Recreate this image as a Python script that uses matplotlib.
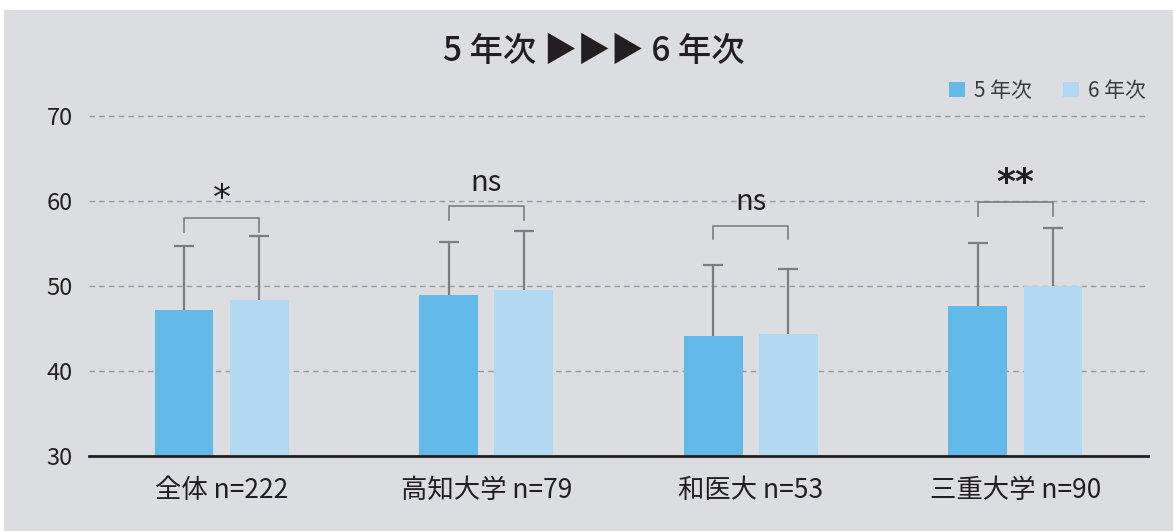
import matplotlib
matplotlib.use("Agg")
import numpy as np
import matplotlib.pyplot as plt
from matplotlib.patches import Rectangle, Patch

plt.rcParams["font.family"] = ["Noto Sans CJK JP", "DejaVu Sans"]

# -------------------------
# Data
# -------------------------
groups = ["全体 n=222", "高知大学 n=79", "和医大 n=53", "三重大学 n=90"]
series_names = ["5 年次", "6 年次"]
mean_y5 = [47.2, 48.9, 44.1, 47.7]
sd_y5 = [7.5, 6.3, 8.4, 7.4]
mean_y6 = [48.4, 49.5, 44.3, 50.0]
sd_y6 = [7.5, 7.0, 7.7, 6.8]
bracket_y = [58.0, 59.4, 57.1, 59.9]
sig_labels = ["*", "ns", "ns", "**"]

BG = "#dcdde0"
C5 = "#63b9e8"
C6 = "#b2d8f2"
ERR = "#7d7d7d"
TXT = "#231f20"

fig = plt.figure(figsize=(11.73, 5.31), dpi=100, facecolor="white")
fig.patches.append(Rectangle((4 / 1173, 0), 1, 521 / 531, transform=fig.transFigure,
                             facecolor=BG, edgecolor="none", zorder=-10))

ax = fig.add_axes([89.3 / 1173, 75.3 / 531, (1147.7 - 89.3) / 1173, (455.7 - 116.5) / 531])
ax.set_facecolor("none")

x = np.arange(len(groups))
width = 0.222
offset = 0.142


def upper_error(ax, xs, means, sds):
    tops = np.array(means) + np.array(sds)
    ax.vlines(xs, means, tops, color=ERR, lw=1.6, zorder=2)
    ax.plot(xs, tops, linestyle="none", marker="_", markersize=15,
            markeredgewidth=1.6, color=ERR, zorder=2)


ax.bar(x - offset, mean_y5, width, color=C5, zorder=3)
ax.bar(x + offset, mean_y6, width, color=C6, zorder=3)
upper_error(ax, x - offset, mean_y5, sd_y5)
upper_error(ax, x + offset, mean_y6, sd_y6)

# significance brackets
leg = 1.6
for xi, by, lab in zip(x, bracket_y, sig_labels):
    ax.plot([xi - offset, xi - offset, xi + offset, xi + offset],
            [by - leg, by, by, by - leg], color=ERR, lw=1.2, zorder=4, clip_on=False)
    if lab == "ns":
        ax.text(xi, by + 1.0, lab, ha="center", va="bottom", fontsize=21, color=TXT,
                clip_on=False)
    else:
        ax.text(xi, by + 0.3, lab, ha="center", va="bottom", fontsize=26, color=TXT,
                family="DejaVu Sans", fontweight="bold" if lab == "**" else "normal",
                clip_on=False)

ax.set_xlim(-0.5, len(groups) - 0.5)
ax.set_ylim(30, 70)
ax.set_yticks([30, 40, 50, 60, 70])
ax.set_xticks(x)
ax.set_xticklabels(groups)
ax.tick_params(axis="y", length=0, labelsize=17, colors=TXT, pad=12)
ax.tick_params(axis="x", length=0, labelsize=19, colors=TXT, pad=15)

ax.yaxis.grid(True, linestyle=(0, (4, 3)), color="#9a9a9a", linewidth=1.0, zorder=0)
for gl in ax.yaxis.get_gridlines():
    gl.set_clip_on(False)
ax.xaxis.grid(False)
ax.set_axisbelow(True)

for side in ["top", "right", "left"]:
    ax.spines[side].set_visible(False)
ax.spines["bottom"].set_color(TXT)
ax.spines["bottom"].set_linewidth(2)
ax.spines["bottom"].set_zorder(5)

fig.text(594 / 1173, 1 - 51.7 / 531, "5 年次 ▶▶▶ 6 年次", ha="center", va="center",
         fontsize=24, fontweight="medium", color=TXT)

handles = [Patch(facecolor=C5, edgecolor="none"), Patch(facecolor=C6, edgecolor="none")]
fig.legend(handles, series_names, loc="center right", bbox_to_anchor=(0.993, 1 - 91 / 531),
           ncol=2, frameon=False, fontsize=15, handlelength=0.75, handleheight=0.75,
           handletextpad=0.45, columnspacing=1.5, labelcolor="#3a3a3a")

fig.savefig("out.png", dpi=100, facecolor=fig.get_facecolor())
